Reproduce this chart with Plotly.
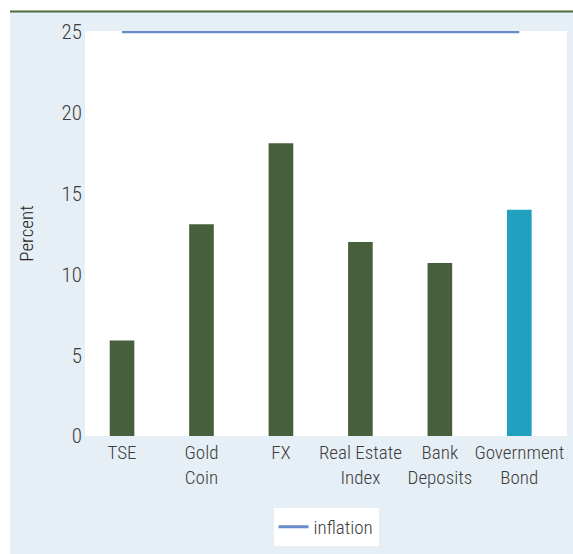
import plotly.graph_objects as go

# Asset classes and their returns (percent)
categories = ["TSE", "Gold<br>Coin", "FX", "Real Estate<br>Index", "Bank<br>Deposits", "Government<br>Bond"]
returns = [5.9, 13.1, 18.1, 12.0, 10.7, 14.0]
bar_colors = ["#475f3b", "#475f3b", "#475f3b", "#475f3b", "#475f3b", "#22a0c0"]
inflation = [25, 25, 25, 25, 25, 25]
y_ticks = [0, 5, 10, 15, 20, 25]

FONT = "Roboto Condensed, Liberation Sans Narrow, sans-serif"
PANEL = "#e6eff5"
TXT = "#3c3c3c"

fig = go.Figure()
fig.add_trace(go.Bar(
    x=categories, y=returns, marker=dict(color=bar_colors, line=dict(width=0)),
    width=0.31, showlegend=False,
))
fig.add_trace(go.Scatter(
    x=categories, y=inflation, mode="lines", name="inflation",
    line=dict(color="#6a8cca", width=3),
))

W, H = 573, 554
L, R, T, B = 85, 6, 31, 118
pw, ph = W - L - R, H - T - B


def px(xp):
    return (xp - L) / pw


def py(yp):
    return (H - B - yp) / ph


# white strips around the shaded panel, and the dark rule along its top
fig.add_shape(type="rect", xref="paper", yref="paper", x0=px(0), x1=px(W), y0=py(11), y1=py(0),
              fillcolor="white", line=dict(width=0), layer="below")
fig.add_shape(type="rect", xref="paper", yref="paper", x0=px(0), x1=px(10), y0=py(H), y1=py(0),
              fillcolor="white", line=dict(width=0), layer="below")
fig.add_shape(type="line", xref="paper", yref="paper", x0=px(10), x1=px(W), y0=py(11.5), y1=py(11.5),
              line=dict(color="#4a6a3c", width=2))

fig.update_layout(
    width=W, height=H,
    margin=dict(l=L, r=R, t=T, b=B, autoexpand=False),
    paper_bgcolor=PANEL, plot_bgcolor="white",
    font=dict(family=FONT, size=19, color=TXT, weight=300),
    legend=dict(orientation="h", x=0.5, xanchor="center", y=py(527), yanchor="middle",
                bgcolor="white", font=dict(size=19, color=TXT, weight=300),
                itemwidth=30),
)
fig.update_xaxes(range=[-0.466, 5.6], showgrid=False, showline=False, automargin=False,
                 tickangle=0, ticks="", ticklabelstandoff=3,
                 tickfont=dict(size=19, color=TXT, weight=300))
fig.update_yaxes(range=[0, 25.05], tickvals=y_ticks, showgrid=False, zeroline=False,
                 showline=False, ticks="", automargin=False, ticklabelstandoff=2,
                 tickfont=dict(size=21, color=TXT, weight=300),
                 title=dict(text="Percent", font=dict(size=19, color="#222", weight=300), standoff=22))

fig.write_html("out.html")
